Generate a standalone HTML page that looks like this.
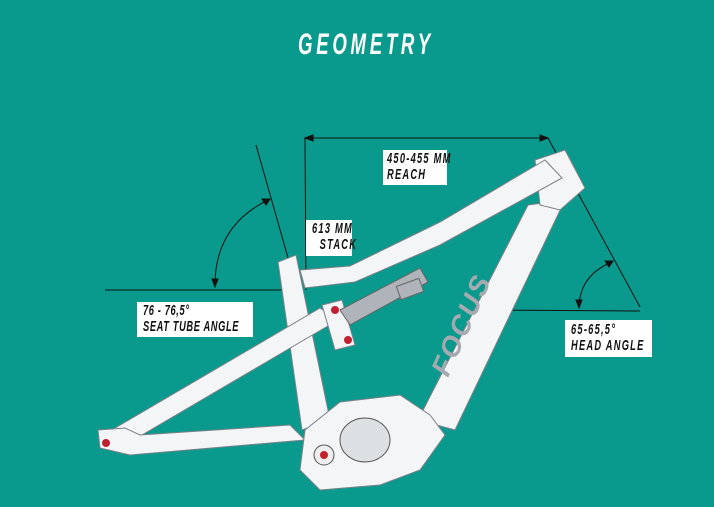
<!DOCTYPE html>
<html><head><meta charset="utf-8"><style>
html,body{margin:0;padding:0;background:#0a9a8d;}
body{width:714px;height:507px;overflow:hidden;position:relative;font-family:"Liberation Sans",sans-serif;}
.t{position:absolute;font-weight:bold;font-style:italic;color:#111;letter-spacing:2px;transform-origin:0 0;white-space:nowrap;}
.lab{position:absolute;background:#fff;}
</style></head><body>
<svg width="714" height="507" style="position:absolute;left:0;top:0">
<g stroke="#111" stroke-width="1" fill="none">
<line x1="305" y1="138" x2="548" y2="138"/>
<polygon points="305,138 313,135 313,141" fill="#111"/>
<polygon points="548,138 540,135 540,141" fill="#111"/>
<line x1="305" y1="138" x2="306" y2="290"/>
<line x1="256" y1="145" x2="300" y2="300"/>
<line x1="105" y1="290" x2="300" y2="290"/>
<path d="M270,199 Q215,225 215,285"/>
<polygon points="270,199 262,199 266,205" fill="#111"/>
<polygon points="215,287 212,279 218,279" fill="#111"/>
<line x1="548" y1="138" x2="640" y2="307"/>
<line x1="482" y1="310" x2="640" y2="311"/>
<path d="M612,262 Q580,275 579,307"/>
<polygon points="613,261 605,261 609,267" fill="#111"/>
<polygon points="579,308 576,300 582,300" fill="#111"/>
</g>
<g fill="#f4f5f6" stroke="#7a8088" stroke-width="1">
<polygon points="278,262 296,255 330,420 302,430"/>
<polygon points="98,438 320,308 338,320 125,445"/>
<polygon points="98,430 125,428 140,435 290,425 305,440 130,455 100,448"/>
<polygon points="322,305 342,300 355,345 335,350"/>
<polygon points="528,205 565,200 455,430 418,420"/>
<polygon points="535,160 565,150 585,188 560,210 540,205"/>
<polygon points="545,160 562,178 440,245 355,282 305,288 300,270 350,266 440,222"/>
<polygon points="305,430 340,402 400,395 430,415 445,435 420,470 380,485 320,490 300,470"/>
</g>
<g fill="#aeb4ba" stroke="#666" stroke-width="1">
<polygon points="340,310 420,268 428,282 350,325"/>
<rect x="398" y="282" width="24" height="14" transform="rotate(-20 410 289)"/>
</g>
<ellipse cx="365" cy="440" rx="25" ry="22" fill="#dde0e3" stroke="#555"/>
<circle cx="324" cy="455" r="10" fill="#eee" stroke="#555"/>
<g fill="#c02030"><circle cx="324" cy="455" r="4"/><circle cx="335" cy="310" r="4"/><circle cx="348" cy="340" r="4"/><circle cx="106" cy="443" r="4"/></g>
<text x="0" y="0" transform="translate(448,378) rotate(-66)" font-family="Liberation Sans" font-weight="bold" font-style="italic" font-size="28" fill="#a4aab0" letter-spacing="2">FOCUS</text>
</svg>
<div class="t" style="left:298px;top:28px;color:#fff;font-size:30px;letter-spacing:6px;transform:scaleX(0.62);">GEOMETRY</div>
<div class="lab" style="left:383px;top:150px;width:64px;height:35px"></div>
<div class="t" style="left:387px;top:151px;font-size:15px;line-height:16px;transform:scaleX(0.62)">450-455 MM<br>REACH</div>
<div class="lab" style="left:306px;top:220px;width:46px;height:36px"></div>
<div class="t" style="left:312px;top:221px;font-size:15px;line-height:16px;transform:scaleX(0.62)">613 MM<br>&nbsp;&nbsp;STACK</div>
<div class="lab" style="left:137px;top:302px;width:116px;height:35px"></div>
<div class="t" style="left:143px;top:303px;font-size:15px;line-height:16px;letter-spacing:1px;transform:scaleX(0.62)">76 - 76,5°<br>SEAT TUBE ANGLE</div>
<div class="lab" style="left:565px;top:320px;width:87px;height:37px"></div>
<div class="t" style="left:571px;top:322px;font-size:15px;line-height:16px;transform:scaleX(0.62)">65-65,5°<br>HEAD ANGLE</div>
</body></html>
